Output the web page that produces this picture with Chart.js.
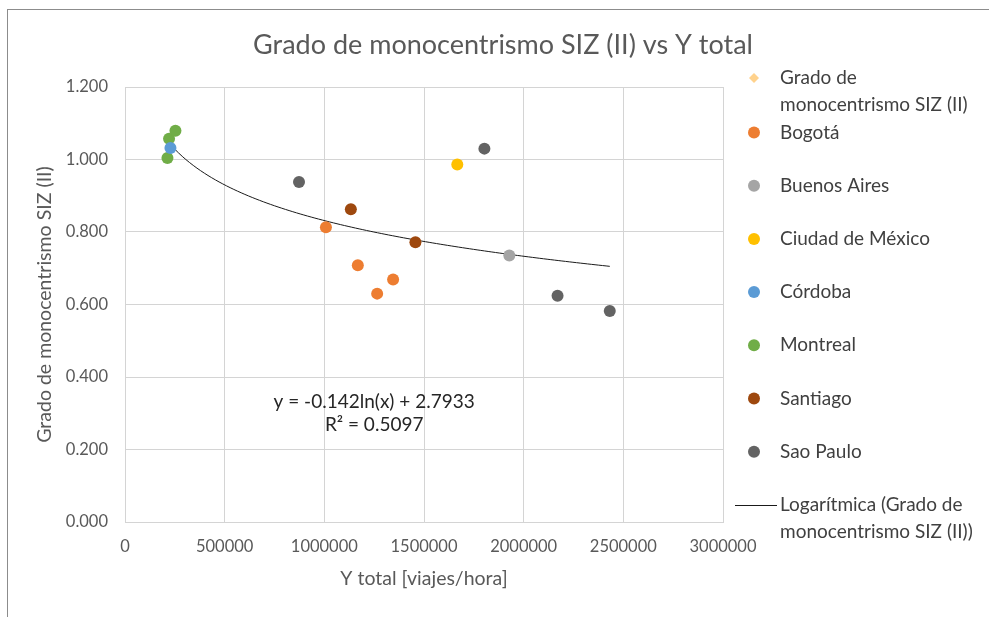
<!DOCTYPE html>
<html>
<head>
<meta charset="utf-8">
<script src="https://cdn.jsdelivr.net/npm/chart.js@4.4.1/dist/chart.umd.min.js"></script>
<style>
  html, body { margin: 0; padding: 0; background: #ffffff; }
  #wrap { position: relative; width: 989px; height: 617px; }
  #frame { position: absolute; left: 7px; top: 9px; right: 0; bottom: 0;
           border-left: 1px solid #8c8c8c; border-top: 1px solid #8c8c8c; pointer-events: none; }
  canvas { position: absolute; left: 0; top: 0; }
</style>
</head>
<body>
<div id="wrap">
  <canvas id="chart" width="989" height="617"></canvas>
  <div id="frame"></div>
</div>
<script>
// Y total [viajes/hora] (x) and Grado de monocentrismo SIZ (II) (y) for each city
const bogotaX = [1008000, 1168000, 1265000, 1345000];
const bogotaY = [0.813, 0.708, 0.630, 0.669];
const buenosAiresX = [1928000];
const buenosAiresY = [0.735];
const mexicoX = [1667000];
const mexicoY = [0.986];
const cordobaX = [228000];
const cordobaY = [1.032];
const montrealX = [213000, 221000, 253000];
const montrealY = [1.004, 1.057, 1.079];
const santiagoX = [1133000, 1457000];
const santiagoY = [0.863, 0.772];
const saoPauloX = [873000, 1803000, 2170000, 2432000];
const saoPauloY = [0.938, 1.030, 0.624, 0.582];

// Logarithmic trend fitted over all cities: y = a*ln(x) + b
const trendCoef = [-0.142, 2.7933];
const trendR2 = 0.5097;

const xTickValues = [0, 500000, 1000000, 1500000, 2000000, 2500000, 3000000];
const yTickValues = [0, 0.2, 0.4, 0.6, 0.8, 1.0, 1.2];

const chartTitle = 'Grado de monocentrismo SIZ (II) vs Y total';

const FONT = 'Lato, "Open Sans", sans-serif';

const pts = (xs, ys) => xs.map((x, i) => ({ x, y: ys[i] }));
const cityDataset = (label, xs, ys, color) => ({
  label, data: pts(xs, ys), backgroundColor: color, borderColor: color,
  pointRadius: 6, pointHoverRadius: 6, pointStyle: 'circle', borderWidth: 0
});

const allX = [].concat(bogotaX, buenosAiresX, mexicoX, cordobaX, montrealX, santiagoX, saoPauloX);
const xMin = Math.min(...allX), xMax = Math.max(...allX);
const trendPoints = [];
for (let i = 0; i <= 120; i++) {
  const x = xMin + (xMax - xMin) * i / 120;
  trendPoints.push({ x, y: trendCoef[0] * Math.log(x) + trendCoef[1] });
}

const datasets = [
  { label: 'Grado de monocentrismo SIZ (II)', data: [], backgroundColor: '#FFD28C', borderColor: '#FFD28C',
    pointStyle: 'rectRot', pointRadius: 5, borderWidth: 0 },
  cityDataset('Bogotá', bogotaX, bogotaY, '#ED7D31'),
  cityDataset('Buenos Aires', buenosAiresX, buenosAiresY, '#A5A5A5'),
  cityDataset('Ciudad de México', mexicoX, mexicoY, '#FFC000'),
  cityDataset('Córdoba', cordobaX, cordobaY, '#5B9BD5'),
  cityDataset('Montreal', montrealX, montrealY, '#70AD47'),
  cityDataset('Santiago', santiagoX, santiagoY, '#9E480E'),
  cityDataset('Sao Paulo', saoPauloX, saoPauloY, '#636363'),
  { type: 'line', label: 'Logarítmica (Grado de monocentrismo SIZ (II))', data: trendPoints,
    borderColor: '#1a1a1a', borderWidth: 1, pointRadius: 0, fill: false, tension: 0, order: 10 }
];

// Title centred on the whole chart box
const centredTitle = {
  id: 'centredTitle',
  afterDraw(chart) {
    const ctx = chart.ctx;
    ctx.save();
    ctx.font = '27px ' + FONT;
    ctx.fillStyle = '#595959';
    ctx.textAlign = 'center';
    ctx.textBaseline = 'middle';
    ctx.fillText(chartTitle, 503, 45);
    ctx.restore();
  }
};

// Legend drawn at the right of the plot, with word wrapping
const sideLegend = {
  id: 'sideLegend',
  afterDraw(chart) {
    const ctx = chart.ctx;
    const left = 780, markerX = 754, maxW = 200;
    let y = 78;
    const lineH = 26.5, gap = 53.2;
    ctx.save();
    ctx.font = '19px ' + FONT;
    ctx.textBaseline = 'middle';
    ctx.textAlign = 'left';
    chart.data.datasets.forEach((ds) => {
      const words = ds.label.split(' ');
      const lines = [];
      let cur = '';
      words.forEach(w => {
        const t = cur ? cur + ' ' + w : w;
        if (ctx.measureText(t).width > maxW && cur) { lines.push(cur); cur = w; } else cur = t;
      });
      lines.push(cur);
      if (ds.type === 'line') {
        ctx.strokeStyle = ds.borderColor; ctx.lineWidth = 1;
        ctx.beginPath(); ctx.moveTo(735, Math.round(y) + 0.5); ctx.lineTo(777, Math.round(y) + 0.5); ctx.stroke();
      } else {
        ctx.fillStyle = ds.backgroundColor;
        ctx.beginPath();
        if (ds.pointStyle === 'rectRot') {
          ctx.moveTo(markerX, y - 5); ctx.lineTo(markerX + 5, y); ctx.lineTo(markerX, y + 5); ctx.lineTo(markerX - 5, y);
          ctx.closePath();
        } else {
          ctx.arc(markerX, y, 6, 0, Math.PI * 2);
        }
        ctx.fill();
      }
      ctx.fillStyle = '#404040';
      lines.forEach((ln, i) => ctx.fillText(ln, left, y + i * lineH));
      y += gap + (lines.length > 1 ? 1.3 : 0);
    });
    ctx.restore();
  }
};

// Trend equation text placed in data coordinates
const trendLabel = {
  id: 'trendLabel',
  afterDatasetsDraw(chart) {
    const { ctx, scales: { x, y } } = chart;
    const px = x.getPixelForValue(1250000);
    const py = y.getPixelForValue(0.331);
    ctx.save();
    ctx.font = '19px ' + FONT;
    ctx.fillStyle = '#262626';
    ctx.textAlign = 'center';
    ctx.textBaseline = 'middle';
    ctx.fillText('y = ' + trendCoef[0].toFixed(3) + 'ln(x) + ' + trendCoef[1].toFixed(4), px, py);
    ctx.fillText('R² = ' + trendR2.toFixed(4), px, py + 23);
    ctx.restore();
  }
};

new Chart(document.getElementById('chart'), {
  type: 'scatter',
  data: { datasets },
  plugins: [sideLegend, trendLabel, centredTitle],
  options: {
    responsive: false,
    devicePixelRatio: 1,
    animation: false,
    layout: { padding: { left: 8, right: 266, top: 87, bottom: 20 } },
    plugins: {
      legend: { display: false },
      tooltip: { enabled: false },
      title: { display: false }
    },
    scales: {
      x: {
        type: 'linear', min: 0, max: 3000000,
        afterBuildTicks: s => { s.ticks = xTickValues.map(v => ({ value: v })); },
        afterFit: s => { s.height = 75; },
        ticks: { color: '#595959', font: { family: FONT, size: 16.5 }, padding: 15, callback: v => String(v) },
        grid: { color: '#d4d4d4', lineWidth: 1, drawTicks: false },
        border: { color: '#d4d4d4' },
        title: { display: true, text: 'Y total [viajes/hora]', color: '#595959',
                 font: { family: FONT, size: 19.5 }, padding: { top: 0, bottom: 7 } }
      },
      y: {
        type: 'linear', min: 0, max: 1.2,
        afterBuildTicks: s => { s.ticks = yTickValues.map(v => ({ value: v })); },
        afterFit: s => { s.width = 117; },
        ticks: { color: '#595959', font: { family: FONT, size: 16.5 }, padding: 17, callback: v => v.toFixed(3) },
        grid: { color: '#d4d4d4', lineWidth: 1, drawTicks: false },
        border: { color: '#d4d4d4' },
        title: { display: true, text: 'Grado de monocentrismo SIZ (II)', color: '#595959',
                 font: { family: FONT, size: 19.5 }, padding: { top: 25, bottom: 0 } }
      }
    }
  }
});
</script>
</body>
</html>
